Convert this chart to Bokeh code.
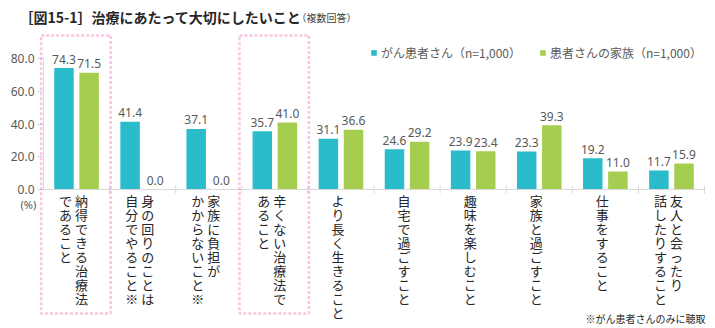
from bokeh.plotting import figure
from bokeh.models import (ColumnDataSource, Range1d, FixedTicker, Label, BoxAnnotation,
                          Legend, LegendItem, NumeralTickFormatter)
from bokeh.transform import dodge
from bokeh.core.properties import value
from bokeh.embed import file_html
from bokeh.resources import INLINE

# ---------------- data ----------------
title_main = "［図15-1］治療にあたって大切にしたいこと"
title_sub = "（複数回答）"
categories = [
    "納得できる治療法\nであること",
    "身の回りのことは\n自分でやること※",
    "家族に負担が\nかからないこと※",
    "辛くない治療法で\nあること",
    "より長く生きること",
    "自宅で過ごすこと",
    "趣味を楽しむこと",
    "家族と過ごすこと",
    "仕事をすること",
    "友人と会ったり\n話したりすること",
]
patients = [74.3, 41.4, 37.1, 35.7, 31.1, 24.6, 23.9, 23.3, 19.2, 11.7]
family = [71.5, 0.0, 0.0, 41.0, 36.6, 29.2, 23.4, 39.3, 11.0, 15.9]
series_names = ["がん患者さん（n=1,000）", "患者さんの家族（n=1,000）"]
highlighted = [0, 3]
y_ticks = [0, 20, 40, 60, 80]
unit_label = "(%)"
footnote = "※がん患者さんのみに聴取"

# ---------------- styles / layout ----------------
W, H = 715, 328
PLOT_L = 43.0          # pixel where first category starts
CAT_W = 66.1           # pixel width of one category
Y0_PX, Y80_PX = 189.0, 58.3
ppu = (Y0_PX - Y80_PX) / 80.0
y_start = -(H - Y0_PX) / ppu
y_end = 80 + Y80_PX / ppu
n = len(categories)
x_start = -0.5 - PLOT_L / CAT_W
x_end = -0.5 + (W - PLOT_L) / CAT_W

BLUE = "#2bbccc"
GREEN = "#a5cd50"
PINK = "#f0409a"
GRAY_TXT = "#595959"
AXIS_GRAY = "#d9d9d9"
DARK = "#262626"
JP = "Noto Sans CJK JP"
NUM = "Noto Sans"

p = figure(width=W, height=H, x_range=Range1d(x_start, x_end),
           y_range=Range1d(y_start, y_end), output_backend="svg",
           toolbar_location=None, x_axis_type=None,
           min_border_left=0, min_border_right=0,
           min_border_top=0, min_border_bottom=0)
p.outline_line_color = None
p.grid.grid_line_color = None
p.background_fill_color = "white"
p.border_fill_color = "white"

# y axis, placed at the start of the first category
yax = p.yaxis[0]
yax.fixed_location = -0.5
yax.ticker = FixedTicker(ticks=y_ticks)
yax.formatter = NumeralTickFormatter(format="0.0")
yax.bounds = (0, 80)
yax.axis_line_color = AXIS_GRAY
yax.major_tick_line_color = AXIS_GRAY
yax.minor_tick_line_color = None
yax.major_tick_out = 6
yax.major_tick_in = 0
yax.major_label_standoff = 3
yax.major_label_text_font = NUM
yax.major_label_text_font_size = "12px"
yax.major_label_text_color = GRAY_TXT

xs = list(range(n))
src = ColumnDataSource(dict(
    x=xs, patients=patients, family=family,
    plab=[f"{v:.1f}" for v in patients], flab=[f"{v:.1f}" for v in family]))

OFF = 0.19
BW = 0.295
r1 = p.vbar(x=dodge("x", -OFF, range=p.x_range), top="patients", width=BW, bottom=0,
            fill_color=BLUE, line_color=None, source=src)
r2 = p.vbar(x=dodge("x", OFF, range=p.x_range), top="family", width=BW, bottom=0,
            fill_color=GREEN, line_color=None, source=src)

for col, ycol, dx in (("plab", "patients", -OFF), ("flab", "family", OFF)):
    p.text(x=dodge("x", dx, range=p.x_range), y=ycol, text=col, source=src,
           text_align="center", text_baseline="middle", y_offset=-9,
           text_font=value(NUM), text_font_size="12px", text_color=GRAY_TXT)

# x axis line and boundary ticks
p.segment(x0=[-0.5], x1=[n - 0.5], y0=[0], y1=[0], line_color=AXIS_GRAY, line_width=1)
bounds = [i - 0.5 for i in range(n + 1)]
p.segment(x0=bounds[1:], x1=bounds[1:], y0=[4 / ppu] * n, y1=[-4 / ppu] * n,
          line_color=AXIS_GRAY, line_width=1)

# vertical category labels (columns right-to-left)
cx, cxo, cyo, cch = [], [], [], []
for i, lab in enumerate(categories):
    cols = lab.split("\n")
    m = len(cols)
    for k, col in enumerate(cols):
        xo = -3 + ((m - 1) / 2 - k) * 16
        for j, ch in enumerate(col):
            cx.append(i); cxo.append(xo); cyo.append(11 + 14 * j); cch.append(ch)
lsrc = ColumnDataSource(dict(x=cx, xo=cxo, yo=cyo, ch=cch))
p.text(x="x", y=0, x_offset="xo", y_offset="yo", text="ch", source=lsrc,
       text_align="center", text_baseline="middle",
       text_font=value(JP), text_font_size="13px", text_color=DARK)

# highlight boxes
top_d = (Y0_PX - 35) / ppu
bot_d = -(313 - Y0_PX) / ppu
for i in highlighted:
    p.add_layout(BoxAnnotation(left=i - 0.535, right=i + 0.515, top=top_d, bottom=bot_d,
                               fill_color=None, fill_alpha=0, line_color=PINK,
                               line_width=2.5, line_dash="3 2"))

# legend
legend = Legend(items=[LegendItem(label=series_names[0], renderers=[r1]),
                       LegendItem(label=series_names[1], renderers=[r2])],
                orientation="horizontal", location=(370, H - 61),
                glyph_width=7, glyph_height=7, label_standoff=4, spacing=18,
                label_text_font=JP, label_text_font_size="12px",
                label_text_color=GRAY_TXT, label_height=16,
                border_line_color=None, background_fill_alpha=0,
                padding=0, margin=0)
p.add_layout(legend)

# texts
p.add_layout(Label(x=19, y=H - 16, x_units="screen", y_units="screen",
                   text=title_main, text_font=JP, text_font_style="bold",
                   text_font_size="14px", text_color=DARK, text_baseline="middle"))
p.add_layout(Label(x=296, y=H - 17, x_units="screen", y_units="screen",
                   text=title_sub, text_font=JP, text_font_size="10px",
                   text_color="#404040", text_baseline="middle"))
p.add_layout(Label(x=20, y=H - 204, x_units="screen", y_units="screen",
                   text=unit_label, text_font=NUM, text_font_size="11px",
                   text_color=GRAY_TXT, text_baseline="middle"))
p.add_layout(Label(x=705, y=H - 318, x_units="screen", y_units="screen",
                   text=footnote, text_font=JP, text_font_size="10px",
                   text_color=DARK, text_baseline="middle", text_align="right"))

open("out.html", "w").write(file_html(p, INLINE))
